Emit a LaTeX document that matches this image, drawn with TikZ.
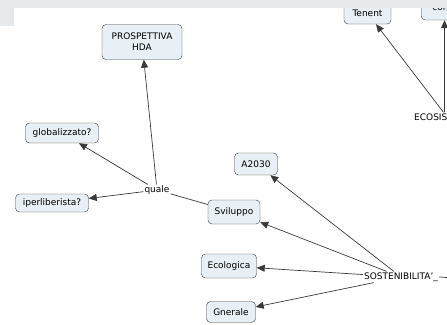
\documentclass[tikz,border=0pt]{standalone}
\usepackage{fontspec}
\setmainfont{DejaVu Sans}
\usepackage{tikz}
\usetikzlibrary{arrows.meta,positioning}
\usepackage{xcolor}
\definecolor{cfill}{HTML}{E8F0F5}
\definecolor{cline}{HTML}{3A3A3A}
\definecolor{band}{HTML}{E6E9EB}

\begin{document}
\begin{tikzpicture}[x=1pt,y=-1pt,
  concept/.style={rounded corners=4pt,draw=cline,fill=cfill,font=\fontsize{9}{11}\selectfont,align=center,inner xsep=6pt,inner ysep=3pt,minimum height=21pt},
  phrase/.style={font=\fontsize{9}{11}\selectfont,inner sep=1pt},
  link/.style={-{Triangle[length=8pt,width=7pt]},cline,line width=0.7pt},
  plain/.style={cline,line width=0.7pt}]

\useasboundingbox (0,0) rectangle (447,324);
\clip (0,0) rectangle (447,324);

\node[concept,minimum width=80pt,minimum height=35pt] (prosp) at (142,42) {PROSPETTIVA\\HDA};
\node[concept,minimum width=73pt,minimum height=20pt] (glob) at (62,133) {globalizzato?};
\node[concept,minimum width=73pt,minimum height=18pt] (iper) at (52,203) {iperliberista?};
\node[concept,minimum width=52pt,minimum height=24pt] (svil) at (234,212) {Sviluppo};
\node[concept,minimum width=43pt,minimum height=22pt] (a2030) at (256,164) {A2030};
\node[concept,minimum width=55pt,minimum height=24pt] (ecol) at (229,266) {Ecologica};
\node[concept,minimum width=49pt,minimum height=21pt] (gner) at (231,312) {Gnerale};
\node[concept,minimum width=47pt,minimum height=22pt] (tenent) at (367.5,13) {Tenent};
\node[concept,anchor=west,minimum width=44pt,minimum height=24pt,inner xsep=3pt] (cona) at (421,8) {cona};

\node[phrase] (quale) at (157,190) {quale};
\node[phrase] (sost) at (401,277) {SOSTENIBILITA'\_};
\node[phrase,anchor=west] (ecos) at (413,117) {ECOSIS};

% quale
\draw[link] (quale) -- (prosp);
\draw[link] (quale) -- (glob);
\draw[link] (quale) -- (iper);
\draw[plain] (svil) -- (quale);

% sostenibilita
\foreach \x in {a2030,svil,ecol,gner}{\draw[link] (sost) -- (\x);}
\draw[plain] (sost.east) -- ++(30,2);

% ecosis
\draw[link] ([xshift=-5pt]ecos.north east) -- (tenent);
\draw[link] ([xshift=-4pt]ecos.north east) -- ([xshift=-4pt]ecos.north east |- cona.south);

\fill[band] (0,0) rectangle (447,8);
\fill[band] (0,0) rectangle (14,26);

\end{tikzpicture}
\end{document}
